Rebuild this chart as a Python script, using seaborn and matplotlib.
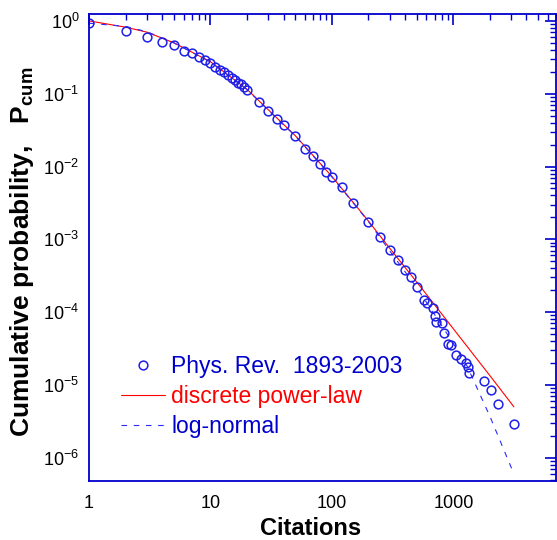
import matplotlib
matplotlib.use("Agg")
import matplotlib.pyplot as plt
import seaborn as sns
import numpy as np
from matplotlib.ticker import LogLocator, LogFormatterSciNotation, NullFormatter

# --- dados ---
citacoes = [1, 2, 3, 4, 5, 6, 7, 8, 9, 10, 11, 12, 13, 14, 15, 16, 17, 18, 19, 20,
            25, 30, 35, 40, 50, 60, 70, 80, 90, 100, 120, 150, 200, 250, 300, 350,
            400, 450, 500, 578, 608, 681, 702, 726, 813, 834, 906, 964, 1054,
            1166, 1265, 1324, 1341, 1803, 2060, 2323, 3148]
p_cum = [0.935, 0.73, 0.61, 0.52, 0.47, 0.39, 0.366, 0.316, 0.286, 0.265,
         0.233, 0.21, 0.197, 0.182, 0.166, 0.154, 0.142, 0.135, 0.124, 0.111,
         0.0776, 0.0578, 0.0449, 0.0368, 0.0265, 0.0176, 0.0138, 0.0107, 0.0084,
         0.00718, 0.00523, 0.00316, 0.00175, 0.00106, 7.06e-4, 5.15e-4,
         3.79e-4, 3.0e-4, 2.23e-4, 1.47e-4, 1.35e-4, 1.13e-4, 8.8e-5, 7.4e-5,
         7.15e-5, 5.2e-5, 3.65e-5, 3.53e-5, 2.58e-5, 2.25e-5, 2.02e-5,
         1.75e-5, 1.47e-5, 1.12e-5, 8.4e-6, 5.5e-6, 2.88e-6]

pl_x = [1, 2, 3, 5, 10, 20, 30, 50, 100, 200, 300, 536, 1000, 2000, 3150]
pl_y = [1.0, 0.82, 0.70, 0.50, 0.275, 0.115, 0.060, 0.0265, 0.0073, 0.00178,
        7.5e-4, 2.23e-4, 5.9e-5, 1.34e-5, 5.0e-6]

# ajuste log-normal (curva tracejada)
ln_x = [1, 2, 3, 5, 10, 20, 30, 50, 100, 200, 300, 487, 700, 1000, 1300, 2000, 3150]
ln_y = [0.93, 0.84, 0.71, 0.50, 0.272, 0.114, 0.059, 0.0262, 0.0072, 0.00175,
        6.9e-4, 2.3e-4, 9.3e-5, 3.7e-5, 1.8e-5, 3.7e-6, 6.0e-7]

AZUL = "#0000cc"
AZUL_PTS = "#1f1fe6"

sns.set_theme(style="white")
plt.rcParams["font.family"] = ["Liberation Sans", "DejaVu Sans"]
plt.rcParams["mathtext.fontset"] = "custom"
plt.rcParams["mathtext.rm"] = "Liberation Sans"
plt.rcParams["mathtext.bf"] = "Liberation Sans:bold"
plt.rcParams["axes.unicode_minus"] = False
plt.rcParams["text.color"] = "black"
plt.rcParams["axes.labelcolor"] = "black"

fig = plt.figure(figsize=(5.57, 5.40), dpi=100)
ax = fig.add_axes([89 / 557, 1 - 481 / 540, (556 - 89) / 557, (481 - 14) / 540])

sns.lineplot(x=pl_x, y=pl_y, ax=ax, color="red", lw=0.8,
             estimator=None, sort=False, label="discrete power-law")
sns.lineplot(x=ln_x, y=ln_y, ax=ax, color="#2a2aff", lw=0.8,
             linestyle=(0, (5, 6)), estimator=None, sort=False,
             label="log-normal")
sns.lineplot(x=citacoes, y=p_cum, ax=ax, linestyle="", marker="o",
             markersize=6.3, markerfacecolor="none", markeredgecolor=AZUL_PTS,
             markeredgewidth=1.1, estimator=None, sort=False,
             label="Phys. Rev.  1893-2003")

ax.set_xscale("log")
ax.set_yscale("log")
ax.set_xlim(1, 7000)
ax.set_ylim(4.79e-7, 1.244)

ax.xaxis.set_major_locator(LogLocator(base=10, numticks=10))
ax.xaxis.set_minor_locator(LogLocator(base=10, subs=np.arange(2, 10), numticks=20))
ax.yaxis.set_major_locator(LogLocator(base=10, numticks=10))
ax.yaxis.set_minor_locator(LogLocator(base=10, subs=np.arange(2, 10), numticks=20))
ax.xaxis.set_major_formatter(plt.FuncFormatter(lambda v, p: f"{v:g}"))
ax.yaxis.set_major_formatter(LogFormatterSciNotation())
ax.xaxis.set_minor_formatter(NullFormatter())
ax.yaxis.set_minor_formatter(NullFormatter())

for s in ax.spines.values():
    s.set_color(AZUL)
    s.set_linewidth(1.3)
ax.tick_params(which="both", direction="in", top=True, right=True,
               color=AZUL, labelcolor="black", labelsize=13)
ax.tick_params(which="major", length=8, width=1.2)
ax.tick_params(which="minor", length=4.5, width=1.0)
ax.tick_params(axis="x", which="major", pad=10)
ax.tick_params(axis="y", which="major", pad=7)

ax.set_xlabel("Citations", fontsize=17, fontweight="bold")
ax.set_ylabel(r"Cumulative probability,   P$_{\mathbf{cum}}$", fontsize=19,
              fontweight="bold")
# posicao dos titulos dos eixos (em pixels da figura)
ax.xaxis.set_label_coords(311 / 557, 1 - 517 / 540, transform=fig.transFigure)
ax.yaxis.set_label_coords(36 / 557, 1 - 252 / 540, transform=fig.transFigure)

handles, labels = ax.get_legend_handles_labels()
order = [2, 0, 1]
leg = ax.legend([handles[i] for i in order], [labels[i] for i in order],
                loc="upper left", frameon=False, fontsize=16.5,
                borderpad=0, borderaxespad=0, handlelength=1.9,
                handletextpad=0.3, labelspacing=0.3,
                labelcolor=[AZUL, "red", AZUL])
leg.set_bbox_to_anchor((121 / 557, 1 - 355 / 540), transform=fig.transFigure)

fig.savefig("out.png", dpi=100)
